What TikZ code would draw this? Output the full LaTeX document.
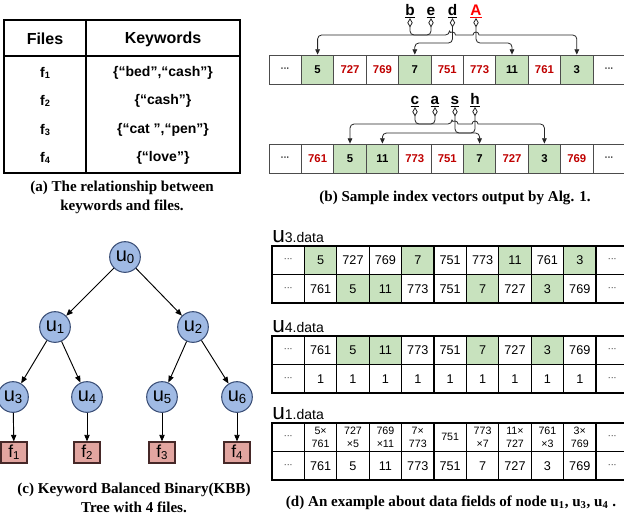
\documentclass[tikz,border=0pt]{standalone}
\usepackage{fontspec}
\setmainfont{Liberation Serif}
\newfontfamily\arial{Liberation Sans}
\usetikzlibrary{arrows.meta,calc}

\definecolor{cellgreen}{RGB}{200,226,190}
\definecolor{numred}{RGB}{192,0,0}
\definecolor{keyred}{RGB}{255,0,0}
\definecolor{nodeblue}{RGB}{160,186,228}
\definecolor{nodeedge}{RGB}{60,80,120}
\definecolor{leafred}{RGB}{226,165,160}
\definecolor{leafedge}{RGB}{70,40,40}

% lowered small digit used as an index
\newcommand\subdig[1]{\raisebox{-0.12em}{\scalebox{0.66}{#1}}}
% three centred dots for elided cells
\newcommand\dts{{\fontsize{6.5}{7}\selectfont\textperiodcentered\textperiodcentered\textperiodcentered}}
% heading of a data-field table
\newcommand\datalabel[1]{\arial{\fontsize{17}{17}\selectfont u}{\fontsize{10.5}{11}\selectfont #1.data}}

\begin{document}
\begin{tikzpicture}[x=0.75pt,y=-0.75pt,
  tline/.style={line width=1pt},
  thead/.style={font=\arial\bfseries\fontsize{12}{14}\selectfont},
  tcell/.style={font=\arial\bfseries\fontsize{10.5}{12}\selectfont},
  capt/.style={font=\bfseries\fontsize{11.3}{14.25}\selectfont, align=center, inner sep=0pt},
  tnode/.style={circle, draw=nodeedge, fill=nodeblue, line width=0.8pt, minimum size=23pt, inner sep=0pt, font=\arial\fontsize{15}{15}\selectfont},
  leaf/.style={draw=leafedge, fill=leafred, line width=0.8pt, minimum width=19.5pt, minimum height=15.75pt, inner sep=0pt, font=\arial\fontsize{13}{13}\selectfont},
  tedge/.style={line width=0.7pt, -{Triangle[length=5pt,width=4pt]}},
  vcell/.style={draw=black!70, line width=0.6pt, minimum width=24.3pt, minimum height=21.75pt, inner sep=0pt, font=\arial\bfseries\fontsize{8.5}{10}\selectfont},
  dcell/.style={draw=black, line width=1pt, minimum width=24.3pt, minimum height=21.4pt, inner sep=0pt, align=center, font=\arial\fontsize{9.5}{10}\selectfont},
  dsmall/.style={font=\arial\fontsize{8}{9.5}\selectfont},
  kgreen/.style={fill=cellgreen},
  kred/.style={text=numred},
  kplain/.style={},
  letter/.style={anchor=base, inner sep=0pt, font=\arial\bfseries\fontsize{11.5}{12}\selectfont},
  link/.style={draw=black!85, line width=0.6pt, arrows={Diamond[open,length=7pt,width=4pt]-Triangle[length=4pt,width=3.5pt]}},
  dlabel/.style={anchor=base west, inner sep=0pt}
]
\useasboundingbox (0,0) rectangle (624,519);
\fill[white] (0,0) rectangle (624,519);
\clip (0,0) rectangle (624,519);

% ---------- (a) keyword table ----------
\draw[tline] (4,20) rectangle (240,173);
\draw[tline] (4,56) -- (240,56);
\draw[tline] (86,20) -- (86,173);
\node[thead] (hf) at (45,39) {Files};
\node[thead] (hk) at (163,39) {Keywords};
\foreach \f/\k/\y [count=\i] in {1/{\{“bed”,“cash”\}}/73, 2/{\{“cash”\}}/101, 3/{\{“cat ”,“pen”\}}/130, 4/{\{“love”\}}/158} {
  \node[tcell] (fa\i) at (45,\y) {f\subdig{\f}};
  \node[tcell] (ka\i) at (163,\y) {\k};
}
\node[capt] (capa) at (122,197.5) {(a) The relationship between\\keywords and files.};

% ---------- (c) KBB tree ----------
\node[tnode] (u0) at (125,257) {u\subdig{0}};
\node[tnode] (u1) at (55,327) {u\subdig{1}};
\node[tnode] (u2) at (193,327) {u\subdig{2}};
\node[tnode] (u3) at (13,397) {u\subdig{3}};
\node[tnode] (u4) at (87,397) {u\subdig{4}};
\node[tnode] (u5) at (162,397) {u\subdig{5}};
\node[tnode] (u6) at (237,397) {u\subdig{6}};
\node[leaf] (f1) at (14,452.5) {f\subdig{1}};
\node[leaf] (f2) at (87,452.5) {f\subdig{2}};
\node[leaf] (f3) at (162,452.5) {f\subdig{3}};
\node[leaf] (f4) at (237,452.5) {f\subdig{4}};
\draw[tedge] (u0) -- (u1);
\draw[tedge] (u0) -- (u2);
\draw[tedge] (u1) -- (u3);
\draw[tedge] (u1) -- (u4);
\draw[tedge] (u2) -- (u5);
\draw[tedge] (u2) -- (u6);
\draw[tedge] (u3) -- (f1);
\draw[tedge] (u4) -- (f2);
\draw[tedge] (u5) -- (f3);
\draw[tedge] (u6) -- (f4);
\node[capt] (capc) at (134,497.5) {(c) Keyword Balanced Binary(KBB)\\Tree with 4 files.};

% ---------- (b) index vectors ----------
\foreach \v/\k [count=\i] in {\dts/kplain, 5/kgreen, 727/kred, 769/kred, 7/kgreen, 751/kred, 773/kred, 11/kgreen, 761/kred, 3/kgreen, \dts/kplain}
  \node[vcell,\k] (p\i) at ({269+32.4*(\i-0.5)},69.5) {\v};
\foreach \v/\k [count=\i] in {\dts/kplain, 761/kred, 5/kgreen, 11/kgreen, 773/kred, 751/kred, 7/kgreen, 727/kred, 3/kgreen, 769/kred, \dts/kplain}
  \node[vcell,\k] (q\i) at ({269+32.4*(\i-0.5)},158.5) {\v};

\node[letter] (lb) at (410,15) {\underline{b}};
\node[letter] (le) at (431,15) {\underline{e}};
\node[letter] (ld) at (452.5,15) {\underline{d}};
\node[letter,text=keyred] (lA) at (476,15) {\underline{A}};
\node[letter] (lc) at (415,104) {\underline{c}};
\node[letter] (la) at (435,104) {\underline{a}};
\node[letter] (ls) at (455,104) {\underline{s}};
\node[letter] (lh) at (475,104) {\underline{h}};

\coordinate (bar1) at (0,35);
\coordinate (bar2) at (0,43);
\coordinate (bar3) at (0,124);
\coordinate (bar4) at (0,133);

% letters of the first keyword
\draw[link] (le.south) [rounded corners=3pt] |- (p2.north |- bar1) -- (p2.north);
\draw[link] (lb.south) [rounded corners=3pt] |- ($(ld.south |- bar1)+(-3,0)$)
  [sharp corners] arc[start angle=180,end angle=0,radius=2.25pt]
  -- ($(lA.south |- bar1)+(-3,0)$) arc[start angle=180,end angle=0,radius=2.25pt]
  -- ($(lA.south |- bar1)+(6,0)$) [rounded corners=3pt] -| (p10.north);
\draw[link] (ld.south) [rounded corners=3pt] |- (p5.north |- bar2) -- (p5.north);
\draw[link] (lA.south) [rounded corners=3pt] |- (p8.north |- bar2) -- (p8.north);

% letters of the second keyword
\draw[link] (la.south) [rounded corners=3pt] |- (q3.north |- bar3) -- (q3.north);
\draw[link] (lc.south) [rounded corners=3pt] |- ($(ls.south |- bar3)+(-3,0)$)
  [sharp corners] arc[start angle=180,end angle=0,radius=2.25pt]
  -- ($(lh.south |- bar3)+(-3,0)$) arc[start angle=180,end angle=0,radius=2.25pt]
  -- ($(lh.south |- bar3)+(6,0)$) [rounded corners=3pt] -| (q9.north);
\draw[link] (ls.south) [rounded corners=3pt] |- (q7.north |- bar4) -- (q7.north);
\draw[link] (lh.south) [rounded corners=3pt] |- (q4.north |- bar4) -- (q4.north);

\node[capt] (capb) at (455,198) {(b) Sample index vectors output by Alg. 1.};

% ---------- (d) data fields ----------
\node[dlabel] (d3) at (272,242) {\datalabel{3}};
\foreach \v/\k [count=\i] in {\dts/kplain, 5/kgreen, 727/kplain, 769/kplain, 7/kgreen, 751/kplain, 773/kplain, 11/kgreen, 761/kplain, 3/kgreen, \dts/kplain}
  \node[dcell,\k] (ra\i) at ({272+32.4*(\i-0.5)},260.25) {\v};
\foreach \v/\k [count=\i] in {\dts/kplain, 761/kplain, 5/kgreen, 11/kgreen, 773/kplain, 751/kplain, 7/kgreen, 727/kplain, 3/kgreen, 769/kplain, \dts/kplain}
  \node[dcell,\k] (rb\i) at ({272+32.4*(\i-0.5)},288.75) {\v};

\node[dlabel] (d4) at (272,332) {\datalabel{4}};
\foreach \v/\k [count=\i] in {\dts/kplain, 761/kplain, 5/kgreen, 11/kgreen, 773/kplain, 751/kplain, 7/kgreen, 727/kplain, 3/kgreen, 769/kplain, \dts/kplain}
  \node[dcell,\k] (rc\i) at ({272+32.4*(\i-0.5)},350.25) {\v};
\foreach \v [count=\i] in {\dts, 1, 1, 1, 1, 1, 1, 1, 1, 1, \dts}
  \node[dcell] (rd\i) at ({272+32.4*(\i-0.5)},378.75) {\v};

\node[dlabel] (d1) at (272,419) {\datalabel{1}};
\foreach \v [count=\i] in {\dts, {5×\\761}, {727\\×5}, {769\\×11}, {7×\\773}, 751, {773\\×7}, {11×\\727}, {761\\×3}, {3×\\769}, \dts}
  \node[dcell,dsmall] (re\i) at ({272+32.4*(\i-0.5)},437.25) {\v};
\foreach \v [count=\i] in {\dts, 761, 5, 11, 773, 751, 7, 727, 3, 769, \dts}
  \node[dcell] (rf\i) at ({272+32.4*(\i-0.5)},465.75) {\v};

\node[capt] (capd) at (451,503) {(d) An example about data fields of node u\textsubscript{1}, u\textsubscript{3}, u\textsubscript{4} .};
\end{tikzpicture}
\end{document}
